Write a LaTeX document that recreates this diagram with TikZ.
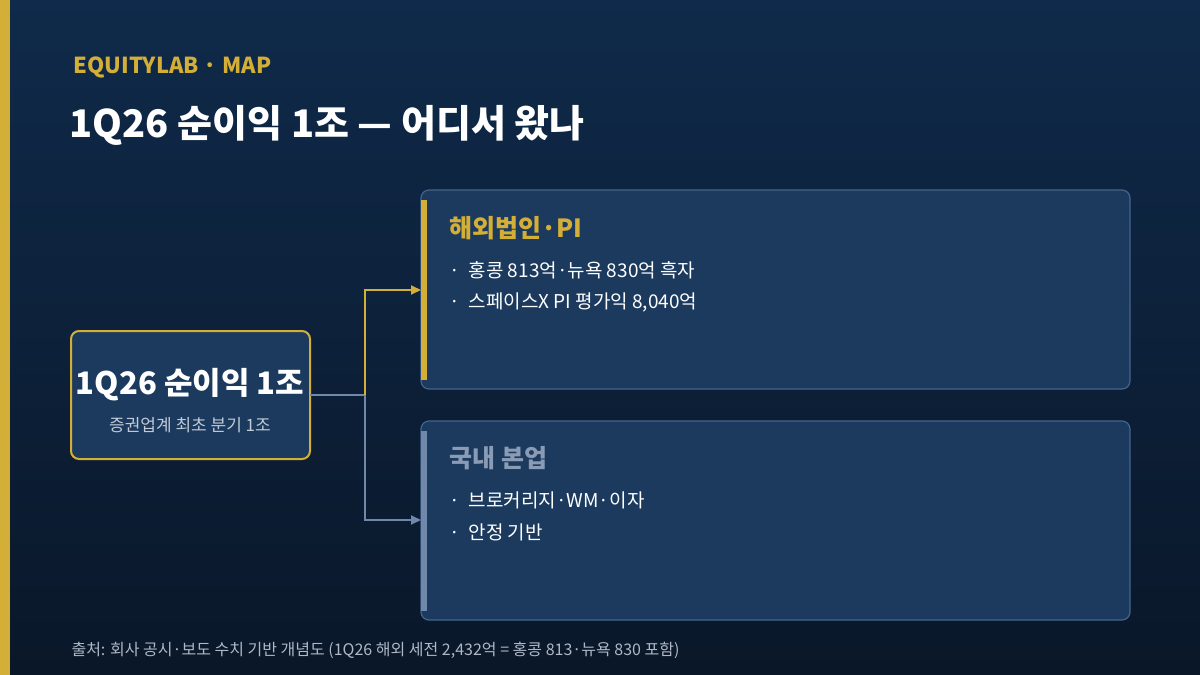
\documentclass[tikz,border=0pt]{standalone}
\usepackage{fontspec}
\setmainfont{Noto Sans CJK KR}
\usetikzlibrary{arrows.meta}
\definecolor{bgtop}{HTML}{0F2A4A}
\definecolor{bgbot}{HTML}{0A1729}
\definecolor{gold}{HTML}{D4AF37}
\definecolor{card}{HTML}{1B3A5E}
\definecolor{cardline}{HTML}{44648C}
\definecolor{steel}{HTML}{7088AA}
\definecolor{muted}{HTML}{8A9BB5}
\definecolor{sub}{HTML}{C2CAD6}
\definecolor{foot}{HTML}{AEB8C6}
\begin{document}
\begin{tikzpicture}[x=1pt,y=-1pt,
  cardbox/.style={draw=cardline,fill=card,line width=1.2pt,rounded corners=8pt},
  bul/.style={anchor=west,text=white,font=\fontsize{19}{22}\selectfont},
  conn/.style={line width=2pt,-{Triangle[length=10pt,width=9pt]}}]
\useasboundingbox (0,0) rectangle (1200,675);
\shade[top color=bgtop,bottom color=bgbot] (0,0) rectangle (1200,675);
\fill[gold] (0,0) rectangle (10,675);
\node[anchor=west,text=gold,font=\bfseries\fontsize{22}{26}\selectfont] (hdr) at (70,67) {EQUITYLAB · MAP};
\node[anchor=west,text=white,font=\bfseries\fontsize{38}{44}\selectfont] (ttl) at (66,125) {1Q26 순이익 1조 — 어디서 왔나};
% left box
\draw[draw=gold,fill=card,line width=2pt,rounded corners=8pt] (71,331) rectangle (310,459);
\node[text=white,font=\bfseries\fontsize{31}{36}\selectfont] (main) at (190,385) {1Q26 순이익 1조};
\node[text=sub,font=\fontsize{17}{20}\selectfont] (mainsub) at (190,425) {증권업계 최초 분기 1조};
% right cards
\draw[cardbox] (421,190) rectangle (1130,389);
\fill[gold] (421,200) rectangle (427,380);
\node[anchor=west,text=gold,font=\bfseries\fontsize{25}{30}\selectfont] (t1) at (446,228) {해외법인·PI};
\node[bul] (b11) at (446,270) {·\ \ 홍콩 813억·뉴욕 830억 흑자};
\node[bul] (b12) at (446,302) {·\ \ 스페이스X PI 평가익 8,040억};
\draw[cardbox] (421,421) rectangle (1130,620);
\fill[steel] (421,431) rectangle (427,611);
\node[anchor=west,text=muted,font=\bfseries\fontsize{25}{30}\selectfont] (t2) at (446,458) {국내 본업};
\node[bul] (b21) at (446,500) {·\ \ 브로커리지·WM·이자};
\node[bul] (b22) at (446,532) {·\ \ 안정 기반};
% connectors
\coordinate (src) at (310,395);
\coordinate (mid) at (365,395);
\coordinate (top) at (421,290);
\coordinate (bot) at (421,520);
\draw[steel,line width=2pt] (src) -- (mid);
\draw[conn,steel] (mid) |- (bot);
\draw[conn,gold] (mid) |- (top);
\node[anchor=west,text=foot,font=\fontsize{16}{19}\selectfont] (ft) at (68,650) {출처: 회사 공시·보도 수치 기반 개념도 (1Q26 해외 세전 2,432억 = 홍콩 813·뉴욕 830 포함)};
\end{tikzpicture}
\end{document}
